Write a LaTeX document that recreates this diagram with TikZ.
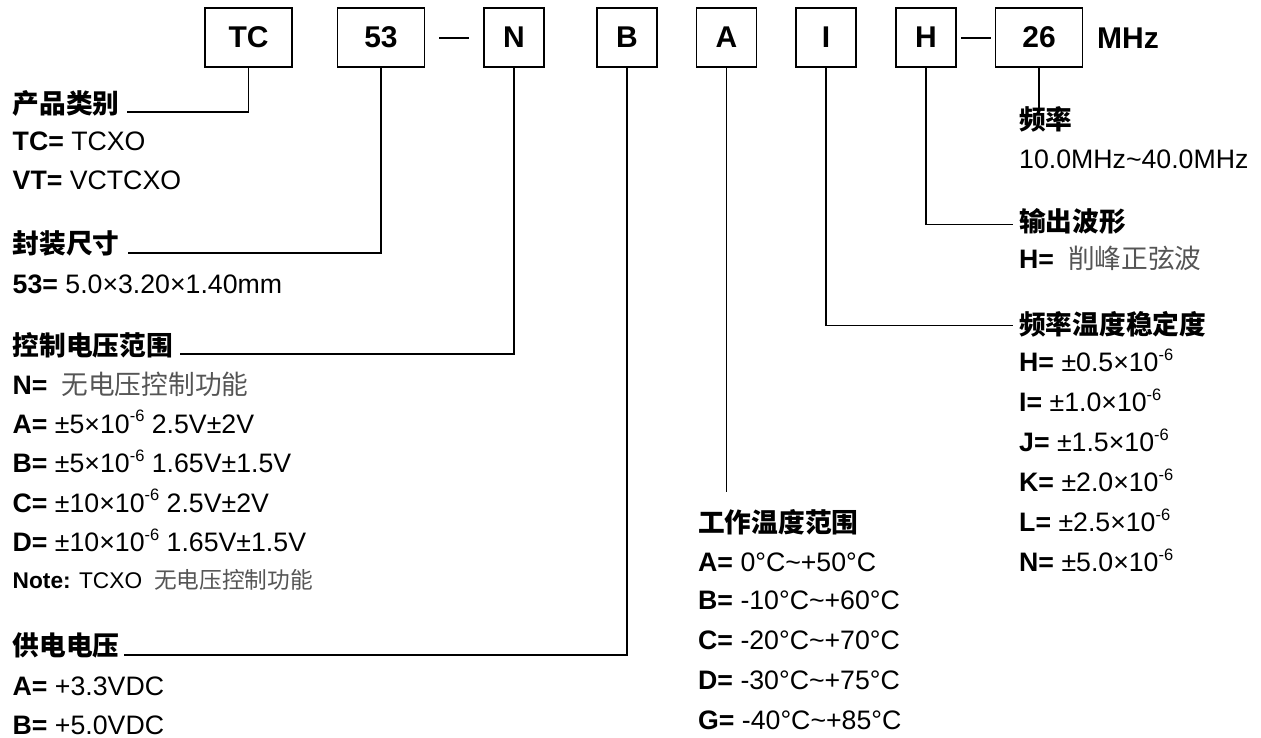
\documentclass[tikz,border=0pt]{standalone}
\usepackage{fontspec}
\setmainfont{Liberation Sans}
\newfontfamily\cjk{Noto Sans CJK SC}
\definecolor{cjkgray}{RGB}{85,85,85}
\newcommand{\hd}[1]{{\cjk\bfseries #1}}
\newcommand{\gy}[1]{{\cjk\color{cjkgray}#1}}
\newcommand{\sups}[1]{\raisebox{0.42em}{\fontsize{16.5}{16.5}\selectfont #1}}
\newcommand{\tl}{\textasciitilde}
\tikzset{
  box/.style={draw, line width=1.5pt, minimum width=60pt, minimum height=59pt, inner sep=0pt,
    font=\fontsize{30}{30}\selectfont\bfseries},
  wbox/.style={box, minimum width=87pt},
  txt/.style={anchor=base west, inner sep=0pt, font=\fontsize{26.7}{30}\selectfont},
  notetxt/.style={txt, font=\fontsize{22.7}{26}\selectfont},
  conn/.style={line width=1.3pt},
}
\begin{document}
\begin{tikzpicture}[x=1pt,y=-1pt]
\useasboundingbox (0,0) rectangle (1261,738);
% top code boxes
\node[wbox] (tc)  at (248.5,37.5) {TC};
\node[wbox] (s53) at (381,37.5) {53};
\node[box]  (n)   at (514,37.5) {N};
\node[box]  (b)   at (627,37.5) {B};
\node[box]  (a)   at (726.5,37.5) {A};
\node[box]  (i)   at (826,37.5) {I};
\node[box]  (h)   at (926,37.5) {H};
\node[wbox] (f26) at (1039,37.5) {26};
\node[anchor=west, inner sep=0pt, font=\fontsize{30}{30}\selectfont\bfseries] (mhz) at (1097,38) {MHz};
\coordinate (d1a) at (439,38); \coordinate (d1b) at (469,38);
\coordinate (d2a) at (961,38); \coordinate (d2b) at (991,38);
\draw[conn] (d1a) -- (d1b);
\draw[conn] (d2a) -- (d2b);

% left column
\node[txt] (hd1) at (12.5,114) {\hd{产品类别}};
\node[txt] (tc1) at (12.5,151) {\textbf{TC=} TCXO};
\node[txt] (tc2) at (12.5,189.5) {\textbf{VT=} VCTCXO};
\node[txt] (hd2) at (12.5,254) {\hd{封装尺寸}};
\node[txt] (sz1) at (12.5,293.5) {\textbf{53=} 5.0×3.20×1.40mm};
\node[txt] (hd3) at (12.5,355) {\hd{控制电压范围}};
\node[txt] (v1) at (12.5,394.5) {\textbf{N=}\hspace{14pt}\gy{无电压控制功能}};
\node[txt] (v2) at (12.5,433) {\textbf{A=} ±5×10\sups{-6} 2.5V±2V};
\node[txt] (v3) at (12.5,472.5) {\textbf{B=} ±5×10\sups{-6} 1.65V±1.5V};
\node[txt] (v4) at (12.5,512) {\textbf{C=} ±10×10\sups{-6} 2.5V±2V};
\node[txt] (v5) at (12.5,551.5) {\textbf{D=} ±10×10\sups{-6} 1.65V±1.5V};
\node[notetxt] (nt) at (12.5,588) {\textbf{Note:} TCXO\hspace{12pt}\gy{无电压控制功能}};
\node[txt] (hd4) at (12.5,655) {\hd{供电电压}};
\node[txt] (p1) at (12.5,695.5) {\textbf{A=} +3.3VDC};
\node[txt] (p2) at (12.5,734) {\textbf{B=} +5.0VDC};

% middle column
\node[txt] (hd5) at (698,532) {\hd{工作温度范围}};
\node[txt] (t1) at (698,571.5) {\textbf{A=} 0°C\tl+50°C};
\node[txt] (t2) at (698,609.5) {\textbf{B=} -10°C\tl+60°C};
\node[txt] (t3) at (698,649.5) {\textbf{C=} -20°C\tl+70°C};
\node[txt] (t4) at (698,689.5) {\textbf{D=} -30°C\tl+75°C};
\node[txt] (t5) at (698,729) {\textbf{G=} -40°C\tl+85°C};

% right column
\node[txt] (hd6) at (1019,130) {\hd{频率}};
\node[txt] (f1) at (1019,169) {10.0MHz\tl40.0MHz};
\node[txt] (hd7) at (1019,232) {\hd{输出波形}};
\node[txt] (w1) at (1019,268) {\textbf{H=}\hspace{14pt}\gy{削峰正弦波}};
\node[txt] (hd8) at (1019,334) {\hd{频率温度稳定度}};
\node[txt] (r1) at (1019,371.5) {\textbf{H=} ±0.5×10\sups{-6}};
\node[txt] (r2) at (1019,411.5) {\textbf{I=} ±1.0×10\sups{-6}};
\node[txt] (r3) at (1019,451.5) {\textbf{J=} ±1.5×10\sups{-6}};
\node[txt] (r4) at (1019,491.5) {\textbf{K=} ±2.0×10\sups{-6}};
\node[txt] (r5) at (1019,531.5) {\textbf{L=} ±2.5×10\sups{-6}};
\node[txt] (r6) at (1019,571.5) {\textbf{N=} ±5.0×10\sups{-6}};

% connector ends
\coordinate (c1) at (127,112);
\coordinate (c2) at (128,253);
\coordinate (c3) at (180,354);
\coordinate (c4) at (124,655);
\coordinate (c5) at (726.5,492);
\coordinate (c6) at (1013,325.5);
\coordinate (c7) at (1013,224.5);
\coordinate (c8) at (1039,110);
\draw[conn] (tc.south) |- (c1);
\draw[conn] (s53.south) |- (c2);
\draw[conn] (n.south) |- (c3);
\draw[conn] (b.south) |- (c4);
\draw[conn] (a.south) -- (c5);
\draw[conn] (i.south) |- (c6);
\draw[conn] (h.south) |- (c7);
\draw[conn] (f26.south) -- (c8);
\end{tikzpicture}
\end{document}
